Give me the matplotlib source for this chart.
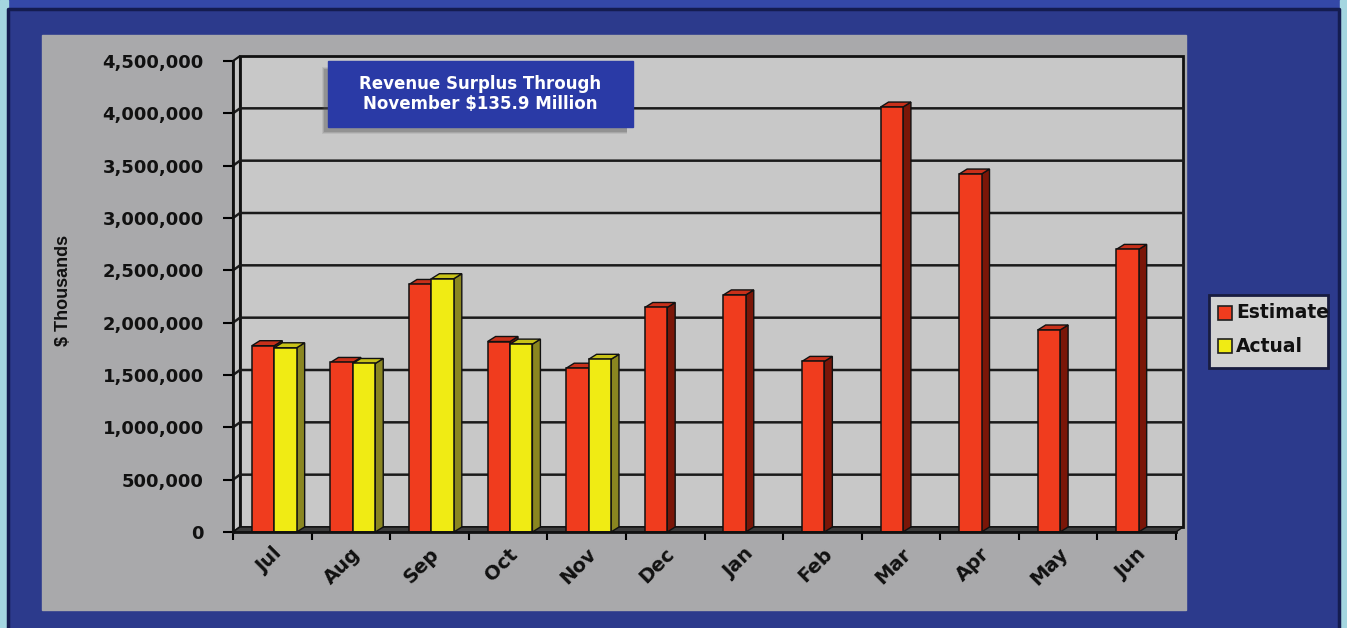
import matplotlib
matplotlib.use("Agg")
import matplotlib.pyplot as plt
from matplotlib.patches import Rectangle, Polygon

months = ["Jul", "Aug", "Sep", "Oct", "Nov", "Dec", "Jan", "Feb", "Mar", "Apr", "May", "Jun"]
estimate = [1780000, 1620000, 2365000, 1820000, 1565000, 2145000,
            2265000, 1630000, 4060000, 3420000, 1930000, 2700000]
actual = [1760000, 1610000, 2420000, 1795000, 1650000]
yticks = [0, 500000, 1000000, 1500000, 2000000, 2500000, 3000000, 3500000, 4000000, 4500000]
series_names = ["Estimate", "Actual"]
note = "Revenue Surplus Through\nNovember $135.9 Million"
ylabel = "$ Thousands"

plt.rcParams['font.weight'] = 'bold'

W, H = 1347, 628
fig = plt.figure(figsize=(W / 100, H / 100), dpi=100)

# background decorations, drawn in pixel units
bg = fig.add_axes([0, 0, 1, 1])
bg.set_xlim(0, W)
bg.set_ylim(H, 0)
bg.axis('off')
bg.add_patch(Rectangle((0, 0), W, H, color='#2C3A8C'))
bg.add_patch(Rectangle((0, 0), W, 8, color='#3448A8'))
bg.add_patch(Rectangle((0, 0), 8, H, color='#A4D6E0'))
bg.add_patch(Rectangle((1340, 0), 7, H, color='#A4D6E0'))
bg.plot([8, 8, 1339, 1339], [H, 9, 9, H], color='#141C50', lw=2.5)
bg.add_patch(Rectangle((42, 35), 1144, 575, color='#A9A9AB'))
bg.text(64, 290, ylabel, rotation=90, ha='center', va='center', fontsize=13,
        family='Liberation Sans', fontweight='bold', color='#111111')

# main axes, front plane of the 3-D chart
x0, x1, y0, y1 = 233, 1176, 532, 61
ax = fig.add_axes([x0 / W, 1 - y0 / H, (x1 - x0) / W, (y0 - y1) / H])
n = len(months)
ymax = yticks[-1]
ax.set_xlim(0, n)
ax.set_ylim(0, ymax)
ax.patch.set_alpha(0)
px = n / (x1 - x0)
py = ymax / (y0 - y1)
dxw, dyw = 7 * px, 5 * py
dxb, dyb = 8 * px, 5 * py

ax.add_patch(Polygon([(dxw, dyw), (n + dxw, dyw), (n + dxw, ymax + dyw), (dxw, ymax + dyw)],
                     facecolor='#C8C8C8', edgecolor='#111111', lw=2, clip_on=False, zorder=0))
ax.add_patch(Polygon([(0, 0), (dxw, dyw), (dxw, ymax + dyw), (0, ymax)],
                     facecolor='#C4C4C4', edgecolor='#111111', lw=1.5, clip_on=False, zorder=0.5))
ax.add_patch(Polygon([(0, 0), (n, 0), (n + dxw, dyw), (dxw, dyw)],
                     facecolor='#3C3C3C', edgecolor='#111111', lw=1, clip_on=False, zorder=0.5))
for v in yticks[1:-1]:
    ax.plot([0, dxw, n + dxw], [v, v + dyw, v + dyw], color='#1A1A1A', lw=1.8,
            clip_on=False, zorder=1)


def bar3d(x, w, h, face, top, side, z):
    ax.add_patch(Polygon([(x + w, 0), (x + w + dxb, dyb), (x + w + dxb, h + dyb), (x + w, h)],
                         facecolor=side, edgecolor='#111111', lw=1, zorder=z, clip_on=False))
    ax.add_patch(Polygon([(x, h), (x + dxb, h + dyb), (x + w + dxb, h + dyb), (x + w, h)],
                         facecolor=top, edgecolor='#111111', lw=1, zorder=z, clip_on=False))
    ax.add_patch(Rectangle((x, 0), w, h, facecolor=face, edgecolor='#111111', lw=1.1,
                           zorder=z + 0.001, clip_on=False))


bw = 0.285
for i in range(n):
    bar3d(i + 0.24, bw, estimate[i], '#F03C1E', '#C8301A', '#7A1608', 3 + 0.01 * i)
    if i < len(actual):
        bar3d(i + 0.24 + bw, bw, actual[i], '#F0EB14', '#C8C218', '#8A8620', 3.005 + 0.01 * i)

ax.set_yticks(yticks)
ax.set_yticklabels([f"{v:,}" for v in yticks])
ax.tick_params(axis='y', length=7, width=1.5, pad=14, labelsize=13, labelcolor='#111111')
ax.set_xticks(range(n + 1))
ax.set_xticklabels([])
ax.tick_params(axis='x', which='major', length=6, width=1.5)
ax.set_xticks([i + 0.5 for i in range(n)], minor=True)
ax.set_xticklabels(months, minor=True, rotation=45, ha='right', rotation_mode='anchor',
                   fontsize=14, color='#111111')
ax.tick_params(axis='x', which='minor', length=0, pad=9)

for s in ['top', 'right']:
    ax.spines[s].set_visible(False)
for s in ['left', 'bottom']:
    ax.spines[s].set_linewidth(2)
    ax.spines[s].set_color('#111111')
    ax.spines[s].set_zorder(10)

# overlay: note box and legend
fg = fig.add_axes([0, 0, 1, 1])
fg.set_xlim(0, W)
fg.set_ylim(H, 0)
fg.axis('off')
fg.patch.set_alpha(0)
for i, a in enumerate([0.12, 0.18, 0.25]):
    fg.add_patch(Rectangle((322 + i, 67 + i), 305 - i, 67 - 2 * i, color='#555555', alpha=a, lw=0))
fg.add_patch(Rectangle((328, 61), 305, 66, color='#2A3AA6'))
fg.text(480, 94, note, color='white', fontsize=12, ha='center', va='center', linespacing=1.1)

leg = Rectangle((1209, 295), 119, 73, facecolor='#D2D2D2', edgecolor='#181C40', lw=2)
fg.add_patch(leg)
for name, col, yy in [(series_names[0], '#F03C1E', 313), (series_names[1], '#F0EB14', 346)]:
    fg.add_patch(Rectangle((1218, yy - 7), 14, 14, facecolor=col, edgecolor='#202020', lw=1.2))
    t = fg.text(1236, yy, name, fontsize=13.5, ha='left', va='center', color='#111111')
    t.set_clip_path(leg)

fig.savefig("out.png", dpi=100)
